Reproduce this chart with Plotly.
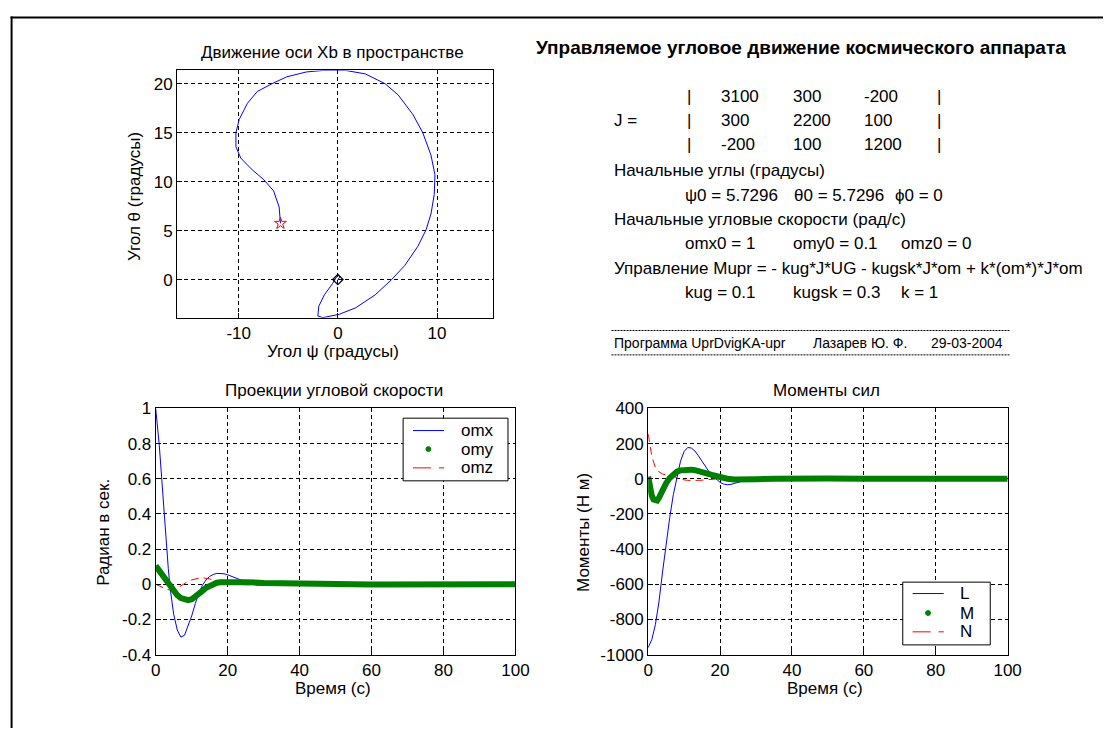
import plotly.graph_objects as go

W, H = 1117, 738
FONT = "Liberation Sans, Arial, sans-serif"

BLUE = "rgb(0,0,255)"
GREEN = "rgb(0,128,0)"
RED = "rgb(255,0,0)"

# ---------------- trajectory of the Xb axis, degrees ----------------
traj_psi = [-5.79, -5.92, -6.48, -7.47, -8.63, -9.79, -10.28, -10.28, -9.95, -9.12,
            -8.13, -6.64, -5.16, -3.17, -1.52, 0.79, 2.78, 4.76, 6.08, 7.57,
            8.56, 9.39, 9.79, 9.72, 9.39, 8.89, 8.07, 6.74, 5.42, 3.77,
            1.79, 0.13, -1.52, -2.02, -1.92, -1.36, -0.53, -0.13, 0.13, 0.2, 0.0]
traj_theta = [5.74, 7.4, 9.05, 10.2, 11.2, 12.4, 13.55, 15.0, 16.35, 18.0,
              19.2, 20.0, 20.7, 21.2, 21.35, 21.35, 21.0, 20.0, 18.85, 16.85,
              15.0, 12.7, 10.7, 8.7, 6.7, 5.07, 3.4, 1.43, 0.0, -1.56,
              -2.89, -3.55, -3.89, -3.72, -2.72, -1.56, -0.4, 0.27, 0.43, 0.25, 0.0]

# ---------------- angular velocity projections, rad/s ----------------
t_omx = [0, 0.5, 1, 1.5, 2, 2.5, 3, 3.5, 4, 5, 6, 7, 8, 9, 10, 11, 12, 13, 14, 15,
         16, 17, 18, 19, 20, 22, 24, 26, 28, 30, 33, 36, 50, 70, 100]
omx = [1.0, 0.9, 0.79, 0.65, 0.5, 0.37, 0.22, 0.09, -0.02, -0.17, -0.26, -0.30, -0.29,
       -0.24, -0.18, -0.11, -0.05, -0.005, 0.025, 0.045, 0.056, 0.062, 0.063, 0.06,
       0.054, 0.04, 0.022, 0.006, -0.004, -0.006, -0.004, 0.0, 0.0, 0.0, 0.0]

t_omy = [0, 1, 2, 3, 4, 5, 6, 7, 8, 9, 10, 11, 12, 13, 14, 15, 16, 17, 18, 20,
         22, 25, 30, 35, 40, 50, 60, 70, 80, 90, 100]
omy = [0.105, 0.075, 0.045, 0.015, -0.015, -0.04, -0.062, -0.078, -0.088, -0.09,
       -0.085, -0.072, -0.055, -0.037, -0.02, -0.007, 0.003, 0.009, 0.012, 0.014,
       0.014, 0.012, 0.008, 0.005, 0.003, 0.001, -0.001, 0.0, 0.001, 0.0, 0.0]

t_omz = [0, 1, 2, 3, 4, 5, 6, 7, 8, 9, 10, 11, 12, 13, 14, 15, 16, 17, 18, 19,
         20, 22, 25, 30, 40, 60, 80, 100]
omz = [0.0, -0.01, -0.02, -0.028, -0.033, -0.032, -0.022, -0.008, 0.006, 0.017,
       0.025, 0.031, 0.035, 0.037, 0.036, 0.031, 0.023, 0.015, 0.008, 0.004,
       0.002, 0.0, -0.002, -0.002, 0.0, 0.0, 0.0, 0.0]

# ---------------- control torques, N*m ----------------
t_L = [0, 1, 2, 3, 4, 5, 6, 7, 8, 9, 10, 11, 12, 13, 14, 15, 16, 17, 18, 19,
       20, 21, 22, 23, 24, 25, 26, 27, 28, 30, 40, 60, 80, 100]
mom_L = [-960, -915, -830, -700, -530, -370, -220, -90, 15, 100, 155, 178, 175, 158,
         130, 98, 65, 38, 15, -5, -20, -30, -34, -32, -26, -18, -11, -6, -3, 0,
         0, 0, 0, 0]

t_M = [0, 0.5, 1, 1.5, 2, 2.5, 3, 3.5, 4, 5, 6, 7, 8, 9, 10, 11, 12, 13, 14, 15,
       16, 17, 18, 19, 20, 22, 24, 26, 28, 30, 35, 40, 50, 60, 70, 80, 90, 100]
mom_M = [12, -50, -95, -118, -126, -124, -108, -85, -62, -25, 5, 28, 41, 48, 52, 53,
         52, 49, 45, 40, 33, 27, 20, 13, 8, 0, -4, -5, -4, -2, 0, 2, 1, 0, 0, 1, 0, 0]

t_N = [0, 0.5, 1, 1.5, 2, 3, 4, 5, 6, 7, 8, 9, 10, 11, 12, 13, 14, 15, 16, 17,
       18, 20, 22, 25, 30, 50, 100]
mom_N = [255, 190, 130, 95, 65, 40, 27, 22, 20, 14, 5, -2, -6, -9, -10, -10, -9, -8,
         -6, -3, -1, 1, 2, 1, 0, 0, 0]

# ---------------- tick labels ----------------
ticks1_x = [-10, 0, 10]
ticks1_y = [0, 5, 10, 15, 20]
ticks_t = [0, 20, 40, 60, 80, 100]
ticks2_y = [-0.4, -0.2, 0, 0.2, 0.4, 0.6, 0.8, 1]
ticks2_y_text = ["-0.4", "-0.2", "0", "0.2", "0.4", "0.6", "0.8", "1"]
ticks3_y = [-1000, -800, -600, -400, -200, 0, 200, 400]
ticks3_y_text = ["-1000", "-800", "-600", "-400", "-200", "0", "200", "400"]

# ---------------- parameters listed in the text panel ----------------
J = [[3100, 300, -200], [300, 2200, 100], [-200, 100, 1200]]
psi0, theta0, phi0 = 5.7296, 5.7296, 0
omx0, omy0, omz0 = 1, 0.1, 0
kug, kugsk, k = 0.1, 0.3, 1

FS = 17  # main text size


def px(x):
    return x / W


def py(y):
    return 1 - y / H


fig = go.Figure()

# trajectory
fig.add_trace(go.Scatter(x=traj_psi, y=traj_theta, mode="lines",
                         line=dict(color=BLUE, width=1), xaxis="x", yaxis="y"))
fig.add_trace(go.Scatter(x=traj_psi[:1], y=traj_theta[:1], mode="markers",
                         marker=dict(symbol="star-open", size=9, color=RED, line=dict(width=1)),
                         xaxis="x", yaxis="y"))
fig.add_trace(go.Scatter(x=traj_psi[-1:], y=traj_theta[-1:], mode="markers",
                         marker=dict(symbol="diamond-open", size=8, color="black", line=dict(width=1.2)),
                         xaxis="x", yaxis="y"))

# angular velocities
fig.add_trace(go.Scatter(x=t_omx, y=omx, mode="lines", line=dict(color=BLUE, width=1),
                         xaxis="x2", yaxis="y2"))
fig.add_trace(go.Scatter(x=t_omz, y=omz, mode="lines", line=dict(color=RED, width=1, dash="8px,5px"),
                         xaxis="x2", yaxis="y2"))
fig.add_trace(go.Scatter(x=t_omy, y=omy, mode="lines", line=dict(color=GREEN, width=6),
                         xaxis="x2", yaxis="y2"))

# torques
fig.add_trace(go.Scatter(x=t_L, y=mom_L, mode="lines", line=dict(color=BLUE, width=1),
                         xaxis="x3", yaxis="y3"))
fig.add_trace(go.Scatter(x=t_N, y=mom_N, mode="lines", line=dict(color=RED, width=1, dash="8px,5px"),
                         xaxis="x3", yaxis="y3"))
fig.add_trace(go.Scatter(x=t_M, y=mom_M, mode="lines", line=dict(color=GREEN, width=6),
                         xaxis="x3", yaxis="y3"))


def axis_style(**kw):
    d = dict(showline=True, linecolor="black", linewidth=1, mirror=True,
             ticks="inside", ticklen=5, tickcolor="black",
             showgrid=True, gridcolor="black", griddash="4px,3px", gridwidth=1,
             zeroline=False, tickfont=dict(size=FS, color="black", family=FONT),
             fixedrange=True)
    d.update(kw)
    return d


fig.update_layout(
    width=W, height=H, autosize=False,
    margin=dict(l=0, r=0, t=0, b=0),
    paper_bgcolor="white", plot_bgcolor="white",
    showlegend=False,
    font=dict(family=FONT, color="black", size=FS),
    xaxis=axis_style(domain=[px(175), px(496)], range=[-16.22, 15.6],
                     tickvals=ticks1_x, ticktext=[str(v) for v in ticks1_x], anchor="y"),
    yaxis=axis_style(domain=[py(317), py(63)], range=[-3.91, 21.36],
                     tickvals=ticks1_y, ticktext=[str(v) for v in ticks1_y], anchor="x"),
    xaxis2=axis_style(domain=[px(153.3), px(519.3)], range=[0, 100],
                      tickvals=ticks_t, ticktext=[str(v) for v in ticks_t], anchor="y2"),
    yaxis2=axis_style(domain=[py(662.7), py(410)], range=[-0.4, 1],
                      tickvals=ticks2_y, ticktext=ticks2_y_text, anchor="x2"),
    xaxis3=axis_style(domain=[px(654.3), px(1020)], range=[0, 100],
                      tickvals=ticks_t, ticktext=[str(v) for v in ticks_t], anchor="y3"),
    yaxis3=axis_style(domain=[py(662.7), py(410)], range=[-1000, 400],
                      tickvals=ticks3_y, ticktext=ticks3_y_text, anchor="x3"),
)

ann = []
shapes = []


def text(x, y, s, size=FS, xanchor="center", angle=0, bold=False):
    ann.append(dict(x=px(x), y=py(y), xref="paper", yref="paper", text=s, showarrow=False,
                    xanchor=xanchor, yanchor="middle", textangle=angle,
                    font=dict(size=size, color="black", family=FONT,
                              weight="bold" if bold else "normal")))


# subplot titles and axis labels
text(333.3, 45, "Движение оси Xb в пространстве")
text(333.3, 352, "Угол ψ (градусы)")
text(131.7, 192.5, "Угол θ (градусы)", angle=-90)
text(335, 392, "Проекции угловой скорости")
text(333.3, 697, "Время (с)")
text(100.7, 536.7, "Радиан в сек.", angle=-90)
text(835.5, 392, "Моменты сил")
text(834.3, 697, "Время (с)")
text(588.3, 537.5, "Моменты (Н м)", angle=-90)

# text panel
text(809.5, 39.5, "Управляемое угловое движение космического аппарата", size=19, bold=True)
row_y = [89.3, 114.3, 139.3]
col_x = [726.8, 800, 872]
for r, row in enumerate(J):
    text(692, row_y[r], "|", xanchor="left")
    text(946, row_y[r], "|", xanchor="left")
    for c, v in enumerate(row):
        text(col_x[c], row_y[r], str(v), xanchor="left")
text(617, 114.3, "J =", xanchor="left")
text(617, 165.5, "Начальные углы (градусы)", xanchor="left")
text(690, 191, f"ψ0 = {psi0}", xanchor="left")
text(801, 191, f"θ0 = {theta0}", xanchor="left")
text(903, 191, f"ϕ0 = {phi0}", xanchor="left")
text(617, 216.5, "Начальные угловые скорости (рад/с)", xanchor="left")
text(690, 241, f"omx0 = {omx0}", xanchor="left")
text(800, 241, f"omy0 = {omy0}", xanchor="left")
text(909.6, 241, f"omz0 = {omz0}", xanchor="left")
text(617, 266.5, "Управление Mupr = - kug*J*UG - kugsk*J*om + k*(om*)*J*om", xanchor="left")
text(690, 291.5, f"kug = {kug}", xanchor="left")
text(800, 291.5, f"kugsk = {kugsk}", xanchor="left")
text(909.6, 291.5, f"k = {k}", xanchor="left")
text(617, 342.5, "Программа UprDvigKA-upr", size=14, xanchor="left")
text(820, 342.5, "Лазарев Ю. Ф.", size=14, xanchor="left")
text(940, 342.5, "29-03-2004", size=14, xanchor="left")
for yy in (330, 355):
    shapes.append(dict(type="line", xref="paper", yref="paper", x0=px(617), x1=px(1022),
                       y0=py(yy), y1=py(yy), line=dict(color="black", width=1, dash="2px,1px")))


# legends drawn as boxed keys inside the lower panels
def legend(box, names, colors, kinds, y_rows, x_line, x_dot, x_text):
    x0, y0, x1, y1 = box
    shapes.append(dict(type="rect", xref="paper", yref="paper", x0=px(x0), x1=px(x1),
                       y0=py(y1), y1=py(y0), line=dict(color="black", width=1), fillcolor="white",
                       layer="above"))
    for name, col, kind, yy in zip(names, colors, kinds, y_rows):
        if kind == "dot":
            shapes.append(dict(type="circle", xref="paper", yref="paper",
                               x0=px(x_dot - 2.5), x1=px(x_dot + 2.5), y0=py(yy + 2.5), y1=py(yy - 2.5),
                               line=dict(color=col, width=1), fillcolor=col, layer="above"))
        else:
            shapes.append(dict(type="line", xref="paper", yref="paper", x0=px(x_line[0]), x1=px(x_line[1]),
                               y0=py(yy), y1=py(yy), layer="above",
                               line=dict(color=col, width=1, dash="solid" if kind == "line" else "18px,8px")))
        ann.append(dict(x=px(x_text), y=py(yy), xref="paper", yref="paper", text=name, showarrow=False,
                        xanchor="left", yanchor="middle", font=dict(size=FS, color="black", family=FONT)))


legend((405, 420, 511.7, 484.3), ["omx", "omy", "omz"], [BLUE, GREEN, RED], ["line", "dot", "dash"],
       [432.7, 451.7, 471], (415, 446.7), 430.7, 461.7)
legend((913.3, 588.3, 1002.3, 652.7), ["L", "M", "N"], [BLUE, GREEN, RED], ["line", "dot", "dash"],
       [600, 620, 639.3], (923.3, 955), 939, 969)

# page frame
shapes.append(dict(type="line", xref="paper", yref="paper", x0=px(5.7), x1=1, y0=py(8.8), y1=py(8.8),
                   line=dict(color="black", width=2)))
shapes.append(dict(type="line", xref="paper", yref="paper", x0=px(6.7), x1=px(6.7), y0=py(7.8), y1=0,
                   line=dict(color="black", width=2)))

fig.update_layout(annotations=ann, shapes=shapes)
fig.write_html("out.html",
               post_script="document.body.style.margin='0px';document.body.style.overflow='hidden';")
